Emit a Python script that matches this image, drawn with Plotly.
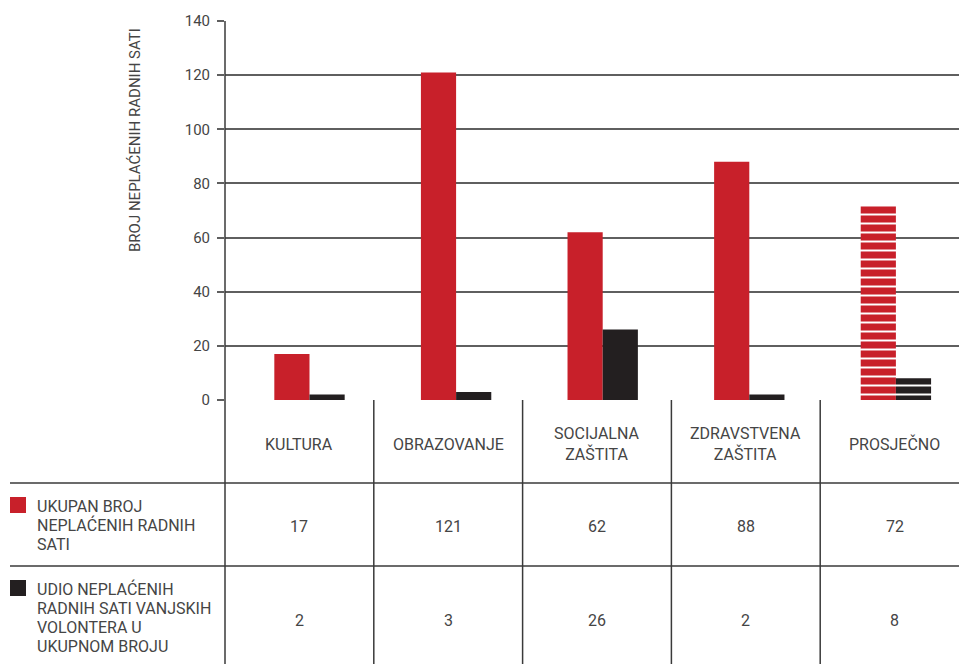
import plotly.graph_objects as go

categories = ["KULTURA", "OBRAZOVANJE", "SOCIJALNA<br>ZAŠTITA", "ZDRAVSTVENA<br>ZAŠTITA", "PROSJEČNO"]
total_hours = [17, 121, 62, 88, 72]
external_share = [2, 3, 26, 2, 8]
series_labels = ["UKUPAN BROJ<br>NEPLAĆENIH RADNIH<br>SATI",
                 "UDIO NEPLAĆENIH<br>RADNIH SATI VANJSKIH<br>VOLONTERA U<br>UKUPNOM BROJU"]
y_ticks = [0, 20, 40, 60, 80, 100, 120, 140]
axis_title = "BROJ NEPLAĆENIH RADNIH SATI"

W, H = 959, 664
RED = "#C8202A"
BLACK = "#231F20"
TXT = "#454545"
LINE = "#3a3a3a"
FONT = "Roboto, Liberation Sans, sans-serif"

def px(x):
    return x / W

def py(y):
    return 1 - y / H

patterns = ["", "", "", "", "-"]
xs = list(range(len(categories)))

fig = go.Figure()
fig.add_trace(go.Bar(
    x=xs, y=total_hours, marker=dict(color=RED, line=dict(width=0),
    pattern=dict(shape=patterns, fgcolor="white", bgcolor=RED, size=9, solidity=0.22, fillmode="replace")),
    showlegend=False, hoverinfo="skip"))
fig.add_trace(go.Bar(
    x=xs, y=external_share, marker=dict(color=BLACK, line=dict(width=0),
    pattern=dict(shape=patterns, fgcolor="white", bgcolor=BLACK, size=9, solidity=0.22, fillmode="replace")),
    showlegend=False, hoverinfo="skip"))

# plot area in pixels
left, right = 225, 959
top, bottom = 21, 400
center0, step = 309.5, 146.6
x_lo = (left - center0) / step
x_hi = (right - center0) / step

fig.update_layout(
    width=W, height=H, autosize=False,
    margin=dict(l=0, r=0, t=0, b=0, pad=0, autoexpand=False),
    paper_bgcolor="white", plot_bgcolor="white",
    barmode="group", bargap=0.52, bargroupgap=0,
    font=dict(family=FONT, color=TXT, size=16),
    xaxis=dict(domain=[px(left), px(right)], range=[x_lo, x_hi], showticklabels=False,
               showgrid=False, zeroline=False, showline=False, ticks="", automargin=False),
    yaxis=dict(domain=[py(bottom), py(top)], range=[0, 140], tickvals=y_ticks,
               showgrid=True, gridcolor="#5f5f5f", gridwidth=1.5,
               zeroline=False, showline=False, automargin=False,
               ticks="outside", ticklen=7, tickcolor="#5f5f5f", tickwidth=1.5,
               tickfont=dict(size=15, color=TXT), ticklabelstandoff=4),
)

shapes = []
shapes.append(dict(type="line", xref="paper", yref="paper", x0=px(left), x1=px(left),
                   y0=py(top), y1=py(H), line=dict(color=LINE, width=1.5)))
cell_w = 148.8
for i in range(1, 5):
    xx = left + cell_w * i
    shapes.append(dict(type="line", xref="paper", yref="paper", x0=px(xx), x1=px(xx),
                       y0=py(bottom), y1=py(H), line=dict(color=LINE, width=1.5)))
for yy in [483, 566]:
    shapes.append(dict(type="line", xref="paper", yref="paper", x0=px(10), x1=1,
                       y0=py(yy), y1=py(yy), line=dict(color=LINE, width=1.5)))
shapes.append(dict(type="rect", xref="paper", yref="paper", x0=px(10), x1=px(26),
                   y0=py(513), y1=py(497), fillcolor=RED, line=dict(width=0)))
shapes.append(dict(type="rect", xref="paper", yref="paper", x0=px(10), x1=px(26),
                   y0=py(596), y1=py(580), fillcolor=BLACK, line=dict(width=0)))
fig.update_layout(shapes=shapes)

ann = []
ann.append(dict(text=axis_title, xref="paper", yref="paper", x=px(135), y=py(140),
                textangle=-90, showarrow=False, font=dict(size=15, color=TXT),
                xanchor="center", yanchor="middle"))
for i, cat in enumerate(categories):
    cx = left + cell_w * (i + 0.5)
    ann.append(dict(text=cat, xref="paper", yref="paper", x=px(cx), y=py(444),
                    showarrow=False, font=dict(size=16, color=TXT), xanchor="center", yanchor="middle"))
    ann.append(dict(text=str(total_hours[i]), xref="paper", yref="paper", x=px(cx), y=py(526),
                    showarrow=False, font=dict(size=16, color=TXT), xanchor="center", yanchor="middle"))
    ann.append(dict(text=str(external_share[i]), xref="paper", yref="paper", x=px(cx), y=py(620),
                    showarrow=False, font=dict(size=16, color=TXT), xanchor="center", yanchor="middle"))
for label, y0 in zip(series_labels, [506, 589]):
    for j, line in enumerate(label.split("<br>")):
        ann.append(dict(text=line, xref="paper", yref="paper", x=px(35), y=py(y0 + 19 * j),
                        showarrow=False, align="left", xanchor="left", yanchor="middle",
                        font=dict(size=16, color=TXT)))
fig.update_layout(annotations=ann)

post = ("document.documentElement.style.margin='0';"
        "document.body.style.margin='0';"
        "document.body.style.overflow='hidden';"
        "var gd=document.getElementById('{plot_id}');"
        "gd.style.position='fixed';gd.style.top='0px';gd.style.left='0px';")
fig.write_html("out.html", config={"displayModeBar": False}, post_script=post)
